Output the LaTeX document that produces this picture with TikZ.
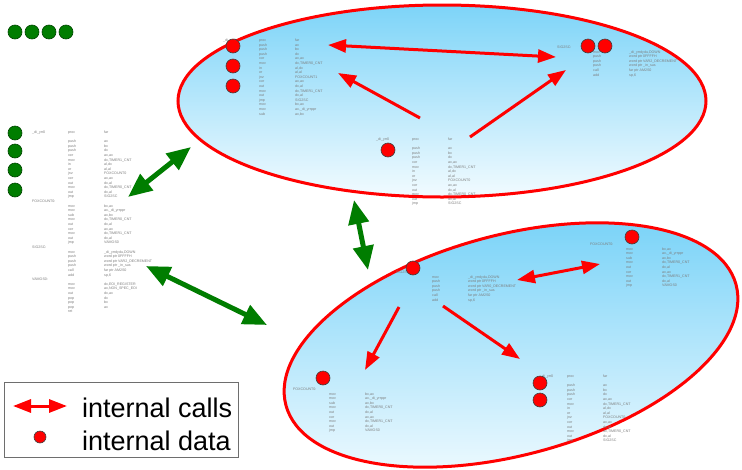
\documentclass[tikz,border=0pt]{standalone}
\usepackage{fontspec}
\setmainfont{Liberation Sans}
\usetikzlibrary{arrows.meta}
\definecolor{ared}{RGB}{255,0,0}
\definecolor{agreen}{RGB}{0,125,0}
\definecolor{agreendk}{RGB}{0,70,0}
\definecolor{etop}{RGB}{125,212,248}
\definecolor{ebot}{RGB}{242,251,255}
\definecolor{codegray}{RGB}{125,125,125}
\definecolor{legendframe}{RGB}{110,110,110}
\tikzset{
 reddot/.style={circle, fill=ared, draw=black!75, line width=0.6pt, minimum size=14pt, inner sep=0pt},
 greendot/.style={circle, fill=agreen, draw=agreendk, line width=0.6pt, minimum size=14pt, inner sep=0pt},
 callarrow/.style={draw=ared, line width=3pt, -{Triangle[length=18pt,width=13pt]}},
 calldouble/.style={draw=ared, line width=3pt, {Triangle[length=18pt,width=13pt]}-{Triangle[length=18pt,width=13pt]}},
 linkarrow/.style={draw=agreen, line width=5pt, {Triangle[length=24pt,width=20pt]}-{Triangle[length=24pt,width=20pt]}},
 module/.style={draw=ared, line width=3pt, top color=etop, bottom color=ebot},
 asm/.style={anchor=north west, inner sep=0pt, text=codegray, font=\fontsize{3.6}{4.6}\selectfont},
 legendtext/.style={anchor=base west, inner sep=0pt, font=\fontsize{27}{30}\selectfont},
}
\newcommand\asmblock[5]{\node[asm] (#1) at (#2,#3) {\begin{tabular}{@{}p{#4pt}@{}p{36pt}@{}l@{}}#5\end{tabular}};}
\begin{document}
\begin{tikzpicture}[x=1pt,y=-1pt]
\useasboundingbox (0,0) rectangle (742,469);
\fill[white] (0,0) rectangle (742,469);

% modules
\path[module] (442,101) ellipse [x radius=264, y radius=96];
\path[module, rotate around={15:(511,345)}] (511,345) ellipse [x radius=233, y radius=110];

% left listing
\asmblock{leftcode}{32}{130}{36}{%
\_di\_yrr0 & proc & far\\
\\
& push & ax\\
& push & bx\\
& push & dx\\
& xor & ax,ax\\
& mov & dx,TIMER1\_CNT\\
& in & al,dx\\
& or & al,al\\
& jnz & FOXCOUNT0\\
& xor & ax,ax\\
& out & dx,al\\
& mov & dx,TIMER0\_CNT\\
& out & dx,al\\
& jmp & SIG2SC\\
FOXCOUNT0: & & \\
& mov & bx,ax\\
& mov & ax,\_di\_yrrppr\\
& sub & ax,bx\\
& mov & dx,TIMER0\_CNT\\
& out & dx,al\\
& xor & ax,ax\\
& mov & dx,TIMER1\_CNT\\
& out & dx,al\\
& jmp & VAMOS0\\
SIG2SC: & & \\
& mov & \_di\_yrrdydu,DOWN\\
& push & word ptr 0FFFFH\\
& push & word ptr VAR2\_DECREMENT\\
& push & word ptr \_in\_sus\\
& call & far ptr AM2S0\\
& add & sp,6\\
VAMOS0: & & \\
& mov & dx,EOI\_REGISTER\\
& mov & ax,NON\_SPEC\_EOI\\
& out & dx,ax\\
& pop & dx\\
& pop & bx\\
& pop & ax\\
& ret & }

% top module listings
\asmblock{topa}{223}{38}{36}{%
\_di\_yrr1 & proc & far\\
& push & ax\\
& push & bx\\
& push & dx\\
& xor & ax,ax\\
& mov & dx,TIMER0\_CNT\\
& in & al,dx\\
& or & al,al\\
& jnz & FOXCOUNT1\\
& xor & ax,ax\\
& out & dx,al\\
& mov & dx,TIMER1\_CNT\\
& out & dx,al\\
& jmp & SIG2SC\\
& mov & bx,ax\\
& mov & ax,\_di\_yrrppr\\
& sub & ax,bx}
\asmblock{topb}{557}{45}{36}{%
SIG2SC: & & \\
& mov & \_di\_yrrdydu,DOWN\\
& push & word ptr 0FFFFH\\
& push & word ptr VAR2\_DECREMENT\\
& push & word ptr \_in\_sus\\
& call & far ptr AM2S0\\
& add & sp,6}
\asmblock{topc}{376}{137}{36}{%
\_di\_yrr0 & proc & far\\
\\
& push & ax\\
& push & bx\\
& push & dx\\
& xor & ax,ax\\
& mov & dx,TIMER1\_CNT\\
& in & al,dx\\
& or & al,al\\
& jnz & FOXCOUNT0\\
& xor & ax,ax\\
& out & dx,al\\
& mov & dx,TIMER0\_CNT\\
& out & dx,al\\
& jmp & SIG2SC}

% bottom module listings
\asmblock{bota}{396}{270}{36}{%
SIG2SC: & & \\
& mov & \_di\_yrrdydu,DOWN\\
& push & word ptr 0FFFFH\\
& push & word ptr VAR0\_DECREMENT\\
& push & word ptr \_in\_sus\\
& call & far ptr AM2S0\\
& add & sp,6}
\asmblock{botb}{590}{242}{36}{%
FOXCOUNT0: & & \\
& mov & bx,ax\\
& mov & ax,\_di\_yrrppr\\
& sub & ax,bx\\
& mov & dx,TIMER0\_CNT\\
& out & dx,al\\
& xor & ax,ax\\
& mov & dx,TIMER1\_CNT\\
& out & dx,al\\
& jmp & VAMOS0}
\asmblock{botc}{293}{387}{36}{%
FOXCOUNT0: & & \\
& mov & bx,ax\\
& mov & ax,\_di\_yrrppr\\
& sub & ax,bx\\
& mov & dx,TIMER0\_CNT\\
& out & dx,al\\
& xor & ax,ax\\
& mov & dx,TIMER1\_CNT\\
& out & dx,al\\
& jmp & VAMOS0}
\asmblock{botd}{540}{374}{27}{%
\_di\_yrr0 & proc & far\\
\\
& push & ax\\
& push & bx\\
& push & dx\\
& xor & ax,ax\\
& mov & dx,TIMER1\_CNT\\
& in & al,dx\\
& or & al,al\\
& jnz & FOXCOUNT0\\
& xor & ax,ax\\
& out & dx,al\\
& mov & dx,TIMER0\_CNT\\
& out & dx,al\\
& jmp & SIG2SC}

% arrow end points
\coordinate (t1) at (328,45);  \coordinate (t2) at (556,57);
\coordinate (t3) at (420,118); \coordinate (t4) at (338,73);
\coordinate (t5) at (470,137); \coordinate (t6) at (566,70);
\coordinate (b1) at (517,280); \coordinate (b2) at (600,264);
\coordinate (b3) at (399,307); \coordinate (b4) at (365,370);
\coordinate (b5) at (443,306); \coordinate (b6) at (520,359);
\coordinate (g1) at (128,197); \coordinate (g2) at (191,147);
\coordinate (g3) at (146,266); \coordinate (g4) at (267,325);
\coordinate (g5) at (354,200); \coordinate (g6) at (368,270);

% internal calls
\draw[calldouble] (t1) -- (t2);
\draw[callarrow] (t3) -- (t4);
\draw[callarrow] (t5) -- (t6);
\draw[calldouble] (b1) -- (b2);
\draw[callarrow] (b3) -- (b4);
\draw[callarrow] (b5) -- (b6);

% internal data
\node[reddot] (d1) at (233,46) {};
\node[reddot] (d2) at (233,66) {};
\node[reddot] (d3) at (233,86) {};
\node[reddot] (d4) at (588,46) {};
\node[reddot] (d5) at (605,46) {};
\node[reddot] (d6) at (388,150) {};
\node[reddot] (d7) at (413,268) {};
\node[reddot] (d8) at (632,237) {};
\node[reddot] (d9) at (323,378) {};
\node[reddot] (d10) at (540,383) {};
\node[reddot] (d11) at (540,400) {};

% global data
\node[greendot] (h1) at (15,32) {};
\node[greendot] (h2) at (32,32) {};
\node[greendot] (h3) at (49,32) {};
\node[greendot] (h4) at (66,32) {};
\node[greendot] (h5) at (15,133) {};
\node[greendot] (h6) at (15,151) {};
\node[greendot] (h7) at (15,170) {};
\node[greendot] (h8) at (15,190) {};

% external links
\draw[linkarrow] (g1) -- (g2);
\draw[linkarrow] (g3) -- (g4);
\draw[linkarrow] (g5) -- (g6);

% legend
\draw[legendframe, line width=0.8pt, fill=white] (4,382) rectangle (238,457);
\coordinate (l1) at (13,406); \coordinate (l2) at (67,406);
\draw[calldouble] (l1) -- (l2);
\node[reddot, minimum size=12pt] (ld) at (40,437) {};
\node[legendtext] (lt1) at (82,417) {internal calls};
\node[legendtext] (lt2) at (82,450) {internal data};
\end{tikzpicture}
\end{document}
